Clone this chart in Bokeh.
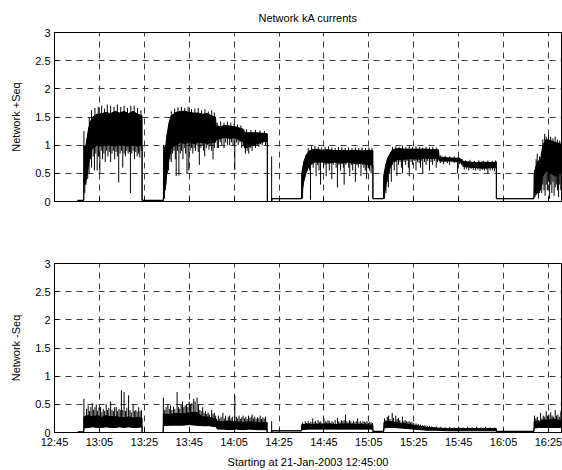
import numpy as np
from bokeh.plotting import figure
from bokeh.layouts import column
from bokeh.models import FixedTicker, Range1d
from bokeh.embed import file_html
from bokeh.resources import INLINE

# ---- data (minutes after 21-Jan-2003 12:45:00) ----
tick_minutes = [0, 20, 40, 60, 80, 100, 120, 140, 160, 180, 200, 220]
tick_labels = ["12:45", "13:05", "13:25", "13:45", "14:05", "14:25",
               "14:45", "15:05", "15:25", "15:45", "16:05", "16:25"]
y_ticks = [0, 0.5, 1, 1.5, 2, 2.5, 3]
y_tick_labels = ["0", "0.5", "1", "1.5", "2", "2.5", "3"]

# positive sequence: dense core of the trace (time, low, high)
pos_t = [0, 10.4, 10.4, 13.0,
         13.1, 13.6, 14.2, 15.0, 15.8, 17, 19, 21, 23, 25, 27, 29, 31, 33, 35, 37, 39.0,
         39.0, 48.5,
         48.6, 49.3, 50.0, 51.0, 52.0, 54, 56, 58, 60, 62, 64, 66, 68, 70, 71.7,
         72.0, 74, 76, 78, 80, 82, 84.3, 84.6, 87, 90, 93, 94.8,
         94.8, 96.7, 96.8, 110.0,
         110.1, 111, 112, 113.5, 116, 119, 122, 125, 128, 131, 134, 137, 140, 141.8,
         141.8, 146.5,
         146.6, 147.5, 148.5, 150.5, 153, 156, 159, 162, 165, 168, 171.0,
         171.3, 174, 177, 180, 181.7, 182, 185, 188, 191, 194, 196.8,
         196.8, 213.5,
         213.6, 215, 216.5, 217.5, 219, 221, 223, 225, 226.5]
pos_lo = [0, 0, 0.02, 0.02,
          0.3, 0.3, 0.4, 0.6, 0.85, 0.95, 1.0, 0.98, 1.0, 1.0, 0.98, 1.0, 1.0, 0.98, 1.0, 0.98, 1.0,
          0.02, 0.02,
          0.2, 0.2, 0.5, 0.75, 0.95, 1.0, 1.05, 1.03, 1.05, 1.03, 1.05, 1.05, 1.03, 1.05, 1.05,
          1.1, 1.12, 1.14, 1.12, 1.13, 1.1, 1.05, 0.95, 0.98, 1.02, 1.06, 1.08,
          0.0, 0.0, 0.05, 0.05,
          0.1, 0.35, 0.5, 0.65, 0.7, 0.7, 0.68, 0.7, 0.68, 0.7, 0.67, 0.68, 0.65, 0.65,
          0.05, 0.05,
          0.1, 0.25, 0.5, 0.7, 0.75, 0.75, 0.76, 0.75, 0.77, 0.76, 0.77,
          0.72, 0.72, 0.72, 0.7, 0.68, 0.62, 0.61, 0.6, 0.59, 0.6, 0.6,
          0.05, 0.05,
          0.1, 0.15, 0.2, 0.45, 0.55, 0.5, 0.45, 0.5, 0.5]
pos_hi = [0, 0, 0.02, 0.02,
          1.0, 0.9, 1.05, 1.25, 1.4, 1.5, 1.55, 1.56, 1.58, 1.56, 1.6, 1.57, 1.6, 1.56, 1.6, 1.55, 1.52,
          0.02, 0.02,
          1.0, 0.9, 1.15, 1.4, 1.52, 1.58, 1.6, 1.6, 1.58, 1.57, 1.57, 1.55, 1.56, 1.52, 1.5,
          1.34, 1.33, 1.35, 1.34, 1.33, 1.31, 1.28, 1.22, 1.22, 1.22, 1.21, 1.2,
          0.0, 0.0, 0.05, 0.05,
          0.5, 0.7, 0.82, 0.9, 0.93, 0.91, 0.92, 0.9, 0.91, 0.9, 0.91, 0.9, 0.91, 0.9,
          0.05, 0.05,
          0.45, 0.65, 0.78, 0.92, 0.94, 0.93, 0.93, 0.93, 0.93, 0.92, 0.92,
          0.79, 0.78, 0.77, 0.77, 0.74, 0.71, 0.7, 0.69, 0.7, 0.69, 0.7,
          0.05, 0.05,
          0.5, 0.7, 0.75, 1.0, 1.1, 1.08, 1.05, 1.03, 1.0]

# downward excursions of the positive sequence trace (time, value)
pos_dip_t = [13.5, 14.0, 14.8, 15.4, 16.0, 16.5, 17.2, 17.8, 18.4, 19.0, 19.6, 20.2, 20.8, 21.4, 22.0,
             22.6, 23.2, 23.8, 24.4, 25.0, 25.6, 26.2, 26.8, 27.4, 28.0, 28.6, 29.2, 29.8, 30.4, 31.0,
             31.6, 32.2, 32.8, 33.4, 33.8, 34.4, 35.0, 35.6, 36.2, 36.8, 37.4, 38.0, 38.6,
             49.0, 49.6, 50.2, 50.8, 51.4, 52.0, 52.6, 53.2, 53.8, 54.2, 54.8, 55.4, 56.0, 56.6, 57.2,
             57.8, 58.4, 59.0, 59.8, 60.4, 61.0, 61.6, 62.2, 62.8, 63.4, 64.0, 64.5, 65.2, 65.8, 66.4,
             66.9, 67.6, 68.2, 68.8, 69.4, 70.0, 70.6, 71.2,
             72.5, 73.0, 73.8, 74.5, 75.5, 76.2, 77.0, 78.0, 78.8, 79.5, 80.3, 81.0, 81.8, 82.6, 83.4, 84.1,
             85.0, 85.8, 86.5, 87.2, 88.0, 88.8, 89.5, 90.3, 91.0, 91.8, 92.5, 93.2, 94.0, 94.5,
             110.5, 111.2, 111.8, 112.4, 113.0, 113.6, 114.0, 114.6, 115.2, 115.8, 116.5, 117.2, 117.8,
             118.5, 119.2, 119.8, 120.5, 121.0, 121.7, 122.4, 123.0, 123.5, 124.2, 124.8, 125.4, 126.0,
             126.7, 127.4, 128.0, 128.6, 129.0, 129.8, 130.4, 131.0, 131.5, 132.2, 132.8, 133.5, 134.0,
             134.7, 135.3, 136.0, 136.5, 137.2, 137.8, 138.4, 139.0, 139.7, 140.3, 141.0, 141.5,
             147.0, 147.6, 148.2, 148.7, 149.3, 150.0, 150.6, 151.3, 152.0, 152.5, 153.2, 153.9, 154.5,
             155.0, 155.7, 156.4, 157.0, 157.6, 158.0, 158.8, 159.5, 160.2, 161.0, 161.7, 162.4, 163.0,
             163.6, 164.0, 164.8, 165.5, 166.2, 167.0, 167.7, 168.4, 169.2, 170.0, 170.6,
             171.8, 172.5, 173.3, 174.0, 175.0, 176.0, 177.0, 178.0, 179.0, 179.5, 180.3, 181.2,
             182.5, 183.5, 184.5, 185.5, 186.5, 187.5, 188.5, 189.5, 190.5, 191.5, 192.5, 193.0, 194.0,
             195.0, 196.0,
             214.0, 214.5, 215.0, 215.5, 216.0, 216.5, 217.0, 217.5, 218.0, 218.5, 219.0, 219.5, 220.0,
             220.5, 221.0, 221.5, 222.0, 222.5, 223.0, 223.5, 224.0, 224.5, 225.0, 225.5, 226.0]
pos_dip_v = [0.15, 0.3, 0.4, 0.5, 0.75, 0.6, 0.8, 0.55, 0.85, 0.55, 0.8, 0.49, 0.9, 0.75, 0.85,
             0.7, 0.9, 0.8, 0.88, 0.7, 0.85, 0.9, 0.75, 0.88, 0.8, 0.34, 0.85, 0.9, 0.6, 0.85,
             0.8, 0.9, 0.85, 0.88, 0.15, 0.85, 0.9, 0.75, 0.88, 0.8, 0.85, 0.78, 0.9,
             0.05, 0.3, 0.5, 0.55, 0.75, 0.7, 0.85, 0.9, 0.75, 0.45, 0.9, 0.46, 0.85, 0.9, 0.75,
             0.95, 0.85, 0.5, 0.55, 0.9, 0.95, 0.85, 0.95, 0.9, 1.0, 0.88, 0.65, 0.95, 1.0, 0.9,
             0.8, 0.95, 1.0, 0.92, 0.98, 0.9, 0.75, 0.95,
             0.95, 0.95, 1.05, 1.0, 0.95, 1.05, 1.0, 1.0, 1.05, 1.0, 0.56, 1.05, 1.0, 1.05, 0.95, 1.0,
             0.85, 0.9, 0.85, 0.95, 0.9, 0.98, 0.95, 1.0, 0.97, 1.02, 1.0, 1.05, 1.0, 1.05,
             0.05, 0.4, 0.5, 0.6, 0.7, 0.55, 0.03, 0.65, 0.6, 0.7, 0.45, 0.65, 0.55,
             0.3, 0.7, 0.6, 0.65, 0.45, 0.7, 0.55, 0.7, 0.4, 0.65, 0.7, 0.6, 0.25,
             0.65, 0.55, 0.7, 0.6, 0.3, 0.65, 0.7, 0.6, 0.45, 0.65, 0.55, 0.7, 0.35,
             0.65, 0.6, 0.7, 0.45, 0.65, 0.6, 0.55, 0.4, 0.6, 0.55, 0.5, 0.6,
             0.05, 0.15, 0.35, 0.25, 0.5, 0.35, 0.65, 0.55, 0.7, 0.45, 0.65, 0.7, 0.6,
             0.5, 0.7, 0.65, 0.72, 0.6, 0.45, 0.7, 0.65, 0.72, 0.55, 0.7, 0.68, 0.6,
             0.72, 0.5, 0.7, 0.65, 0.72, 0.55, 0.7, 0.65, 0.72, 0.6, 0.7,
             0.68, 0.7, 0.66, 0.7, 0.68, 0.65, 0.7, 0.68, 0.7, 0.5, 0.66, 0.65,
             0.57, 0.58, 0.55, 0.58, 0.56, 0.55, 0.57, 0.54, 0.56, 0.55, 0.57, 0.5, 0.55,
             0.56, 0.54,
             0.08, 0.12, 0.2, 0.05, 0.15, 0.25, 0.15, 0.3, 0.2, 0.1, 0.3, 0.2, 0.35,
             0.05, 0.3, 0.15, 0.35, 0.1, 0.25, 0.3, 0.2, 0.08, 0.3, 0.2, 0.1]

# upward excursions of the positive sequence trace (time, value)
pos_peak_t = [13.1, 15.5, 16.5, 18.0, 19.5, 21.0, 22.3, 23.5, 25.0, 26.5, 28.0, 29.5, 31.0, 32.5, 34.0,
              35.5, 37.0, 38.5,
              52.0, 53.5, 55.0, 56.5, 58.0, 59.5, 61.0, 62.5, 64.0, 65.5, 67.0, 68.5, 70.0, 71.2,
              72.5, 74.0, 75.5, 77.0, 78.5, 80.0, 81.5, 83.0,
              85.5, 87.5, 89.5, 91.5, 93.5,
              96.7,
              113.0, 114.5, 116.0, 117.5, 119.0, 120.5, 122.0, 123.5, 125.0, 126.5, 128.0, 129.5, 131.0,
              132.5, 134.0, 135.5, 137.0, 138.5, 140.0, 141.4,
              150.5, 152.0, 153.5, 155.0, 156.5, 158.0, 159.5, 161.0, 162.5, 164.0, 165.5, 167.0, 168.5,
              170.0, 172.0, 174.0, 176.0, 178.0, 180.0,
              183.0, 185.0, 187.0, 189.0, 191.0, 193.0, 195.0, 196.5,
              214.5, 215.0, 216.0, 217.5, 218.3, 219.0, 220.0, 221.0, 222.0, 223.0, 224.0, 225.0]
pos_peak_v = [1.25, 1.5, 1.62, 1.66, 1.68, 1.7, 1.65, 1.72, 1.7, 1.68, 1.72, 1.68, 1.7, 1.66, 1.7,
              1.7, 1.66, 1.62,
              1.6, 1.65, 1.67, 1.68, 1.66, 1.68, 1.64, 1.65, 1.66, 1.62, 1.64, 1.6, 1.62, 1.58,
              1.4, 1.42, 1.4, 1.42, 1.4, 1.38, 1.37, 1.35,
              1.28, 1.27, 1.27, 1.26, 1.25,
              0.8,
              0.95, 0.98, 0.99, 0.97, 0.96, 0.97, 0.98, 0.96, 0.95, 0.97, 0.96, 0.95, 0.96,
              0.95, 0.96, 0.95, 0.96, 0.95, 0.96, 0.95,
              0.97, 0.98, 0.97, 0.99, 0.97, 0.98, 0.97, 0.98, 0.97, 0.96, 0.97, 0.96, 0.97,
              0.96, 0.82, 0.81, 0.8, 0.8, 0.79,
              0.73, 0.74, 0.72, 0.73, 0.72, 0.73, 0.72, 0.73,
              0.75, 0.85, 0.8, 1.1, 1.2, 1.15, 1.18, 1.15, 1.12, 1.15, 1.1, 1.08]

# negative sequence: dense core (time, low, high)
neg_t = [0, 10.4, 10.4, 13.0,
         13.1, 15, 17, 19, 21, 23, 25, 27, 29, 31, 33, 35, 37, 39.0,
         39.0, 48.4,
         48.5, 51, 54, 57, 60, 63, 66, 69, 72, 72.5, 75, 78, 81, 84, 87, 90, 94.7,
         94.7, 96.7, 96.8, 110.0,
         110.1, 113, 116, 119, 122, 125, 128, 131, 134, 137, 141.8,
         141.8, 146.6,
         146.7, 148.5, 151, 154, 157, 160, 163, 166, 170, 175, 180, 185, 190, 196.8,
         196.8, 213.5,
         213.6, 216, 218, 220, 222, 224, 226.5]
neg_lo = [0, 0, 0.01, 0.01,
          0.08, 0.09, 0.1, 0.09, 0.09, 0.1, 0.09, 0.09, 0.1, 0.09, 0.1, 0.09, 0.09, 0.1,
          0.0, 0.0,
          0.12, 0.13, 0.13, 0.13, 0.14, 0.13, 0.12, 0.12, 0.1, 0.06, 0.06, 0.05, 0.06, 0.05, 0.06, 0.05, 0.05,
          0.0, 0.0, 0.03, 0.03,
          0.05, 0.06, 0.06, 0.06, 0.06, 0.06, 0.06, 0.06, 0.06, 0.06, 0.06,
          0.02, 0.02,
          0.08, 0.09, 0.09, 0.08, 0.07, 0.06, 0.05, 0.04, 0.04, 0.03, 0.03, 0.03, 0.03, 0.03,
          0.02, 0.02,
          0.08, 0.09, 0.09, 0.09, 0.09, 0.09, 0.09]
neg_hi = [0, 0, 0.01, 0.01,
          0.28, 0.3, 0.28, 0.3, 0.27, 0.3, 0.28, 0.28, 0.27, 0.26, 0.28, 0.26, 0.27, 0.26,
          0.0, 0.0,
          0.33, 0.32, 0.34, 0.33, 0.35, 0.36, 0.28, 0.27, 0.24, 0.2, 0.19, 0.2, 0.19, 0.18, 0.19, 0.18, 0.18,
          0.0, 0.0, 0.03, 0.03,
          0.14, 0.15, 0.14, 0.15, 0.15, 0.14, 0.15, 0.15, 0.14, 0.14, 0.13,
          0.02, 0.02,
          0.18, 0.2, 0.19, 0.17, 0.15, 0.13, 0.11, 0.09, 0.08, 0.07, 0.07, 0.07, 0.07, 0.07,
          0.02, 0.02,
          0.2, 0.2, 0.22, 0.22, 0.24, 0.22, 0.22]
neg_peak_t = [13.1, 13.7, 14.3, 15.0, 15.6, 16.2, 16.8, 17.4, 18.0, 18.6, 19.2, 19.8, 20.5, 21.1, 21.7,
              22.3, 23.0, 23.6, 24.2, 25.0, 25.6, 26.2, 26.8, 27.5, 28.1, 28.7, 29.3, 29.8, 30.4, 31.0,
              31.6, 32.2, 33.0, 33.6, 34.2, 35.0, 35.6, 36.2, 36.8, 37.5, 38.1, 38.7,
              48.5, 49.1, 49.7, 50.5, 51.1, 51.7, 52.3, 53.0, 53.6, 54.6, 55.2, 55.8, 56.4, 57.0, 57.6,
              58.2, 58.8, 59.4, 60.0, 60.6, 61.2, 62.0, 62.6, 63.5, 64.1, 64.7, 65.3, 66.0, 66.6, 67.2,
              67.8, 68.4, 69.0, 70.0, 70.6, 71.2, 71.8,
              73.0, 73.6, 74.2, 75.0, 75.6, 76.2, 76.8, 77.4, 78.0, 78.6, 79.2, 80.3, 81.0, 81.6, 82.2,
              82.8, 83.4, 84.0, 84.6, 85.2, 85.8, 86.4, 87.0, 87.6, 88.0, 88.6, 89.2, 89.8, 90.4, 91.0,
              91.6, 92.2, 92.8, 93.4, 94.0,
              96.7,
              110.5, 111.1, 111.7, 112.3, 113.0, 113.6, 114.2, 115.0, 115.6, 116.2, 116.8, 117.4, 118.0,
              118.6, 119.2, 120.0, 120.6, 121.2, 121.8, 122.4, 123.0, 123.6, 124.2, 125.0, 126.0, 126.6,
              127.2, 127.8, 128.4, 129.0, 129.6, 130.2, 130.8, 131.4, 132.0, 132.6, 133.2, 133.8, 134.4,
              135.0, 135.6, 136.2, 136.8, 137.4, 138.0, 138.6, 139.2, 139.8, 140.4, 141.0, 141.6,
              147.0, 147.6, 148.2, 148.8, 149.4, 150.4, 151.0, 152.0, 152.6, 153.2, 153.8, 155.0, 155.6,
              156.2, 156.8, 157.4, 158.0, 158.6, 159.2, 160.0, 161.0, 162.0, 163.0, 164.0, 165.0, 166.0,
              167.0, 168.0, 169.0, 170.0, 172.0, 174.0, 176.0, 178.0, 180.0, 182.0, 184.0, 186.0, 188.0,
              190.0, 192.0, 194.0, 196.0,
              213.8, 214.4, 215.0, 215.6, 216.5, 217.1, 217.7, 218.3, 219.0, 219.6, 220.2, 221.0, 221.6,
              222.2, 223.0, 223.6, 224.2, 224.8, 225.5]
neg_peak_v = [0.6, 0.3, 0.42, 0.48, 0.38, 0.45, 0.52, 0.4, 0.45, 0.5, 0.38, 0.44, 0.45, 0.36, 0.42,
              0.38, 0.5, 0.4, 0.44, 0.55, 0.4, 0.38, 0.45, 0.45, 0.38, 0.42, 0.4, 0.75, 0.4, 0.72,
              0.38, 0.44, 0.66, 0.4, 0.36, 0.5, 0.38, 0.4, 0.37, 0.45, 0.38, 0.4,
              0.62, 0.4, 0.45, 0.5, 0.42, 0.48, 0.4, 0.46, 0.42, 0.72, 0.45, 0.42, 0.5, 0.55, 0.45,
              0.48, 0.5, 0.45, 0.55, 0.5, 0.52, 0.6, 0.55, 0.62, 0.5, 0.4, 0.38, 0.45, 0.35, 0.38,
              0.33, 0.36, 0.32, 0.4, 0.33, 0.35, 0.3,
              0.3, 0.25, 0.28, 0.35, 0.25, 0.3, 0.22, 0.28, 0.3, 0.25, 0.28, 0.66, 0.28, 0.25, 0.3,
              0.24, 0.27, 0.3, 0.25, 0.28, 0.24, 0.3, 0.26, 0.28, 0.32, 0.25, 0.28, 0.24, 0.27, 0.25,
              0.3, 0.24, 0.27, 0.25, 0.28,
              0.2,
              0.18, 0.15, 0.2, 0.17, 0.2, 0.16, 0.19, 0.25, 0.18, 0.2, 0.17, 0.22, 0.18,
              0.2, 0.16, 0.25, 0.2, 0.18, 0.22, 0.2, 0.17, 0.2, 0.18, 0.22, 0.26, 0.2,
              0.18, 0.22, 0.2, 0.22, 0.32, 0.2, 0.18, 0.22, 0.2, 0.17, 0.2, 0.18, 0.2,
              0.25, 0.18, 0.2, 0.17, 0.2, 0.19, 0.18, 0.2, 0.17, 0.19, 0.18, 0.17,
              0.25, 0.22, 0.28, 0.3, 0.24, 0.35, 0.26, 0.3, 0.24, 0.26, 0.22, 0.28, 0.2,
              0.22, 0.2, 0.19, 0.2, 0.18, 0.19, 0.17, 0.16, 0.15, 0.14, 0.13, 0.13, 0.12,
              0.12, 0.11, 0.1, 0.11, 0.1, 0.09, 0.1, 0.09, 0.1, 0.09, 0.1, 0.09, 0.1,
              0.09, 0.1, 0.09, 0.09,
              0.3, 0.25, 0.28, 0.22, 0.35, 0.25, 0.3, 0.28, 0.38, 0.3, 0.32, 0.36, 0.3,
              0.28, 0.4, 0.3, 0.32, 0.28, 0.38]

FONT = "Liberation Sans"
X_END = 225.8


def make_fig(height, top, bottom, ylabel, show_x_labels):
    p = figure(width=562, height=height, output_backend="svg", toolbar_location=None,
               x_range=Range1d(0, X_END), y_range=Range1d(0, 3),
               min_border_left=54, min_border_right=1,
               min_border_top=top, min_border_bottom=bottom)
    p.background_fill_color = "white"
    p.border_fill_color = "white"
    p.outline_line_color = "black"
    p.outline_line_width = 1
    p.xaxis.ticker = FixedTicker(ticks=tick_minutes)
    p.yaxis.ticker = FixedTicker(ticks=y_ticks)
    p.xaxis.major_label_overrides = {k: v for k, v in zip(tick_minutes, tick_labels)}
    p.yaxis.major_label_overrides = {k: v for k, v in zip(y_ticks, y_tick_labels)}
    for ax in (p.xaxis[0], p.yaxis[0]):
        ax.axis_line_color = "black"
        ax.major_tick_in = 4
        ax.major_tick_out = 0
        ax.minor_tick_line_color = None
        ax.major_label_text_font = FONT
        ax.major_label_text_font_size = "11px"
        ax.major_label_text_color = "black"
        ax.axis_label_text_font = FONT
        ax.axis_label_text_font_size = "11px"
        ax.axis_label_text_font_style = "normal"
        ax.axis_label_text_color = "black"
    p.yaxis.major_label_standoff = 4
    p.yaxis.axis_label = ylabel
    p.yaxis.axis_label_standoff = 10
    p.xaxis.major_label_standoff = 3
    if not show_x_labels:
        p.xaxis.major_label_text_color = None
    for g in (p.xgrid[0], p.ygrid[0]):
        g.grid_line_color = "#3a3a3a"
        g.grid_line_dash = "6 5"
        g.grid_line_width = 1
    p.xgrid.ticker = FixedTicker(ticks=tick_minutes)
    p.ygrid.ticker = FixedTicker(ticks=y_ticks)
    return p


p1 = make_fig(232, 32, 31, "Network +Seq", False)
p1.title.text = "Network kA currents"
p1.title.align = "center"
p1.title.text_font = FONT
p1.title.text_font_size = "11px"
p1.title.text_font_style = "normal"
p1.title.text_color = "black"
p1.title.standoff = 16
p1.title.vertical_align = "middle"

p2 = make_fig(238, 31, 38, "Network -Seq", True)
p2.xaxis.axis_label = "Starting at 21-Jan-2003 12:45:00"
p2.xaxis.axis_label_standoff = 5


def draw(p, t, lo, hi, dip_t, dip_v, peak_t, peak_v):
    p.varea(x=t, y1=lo, y2=hi, fill_color="black")
    p.line(t, hi, line_color="black", line_width=1)
    p.line(t, lo, line_color="black", line_width=1)
    if dip_t:
        start = np.interp(dip_t, t, hi)
        p.segment(x0=dip_t, y0=start, x1=dip_t, y1=dip_v, line_color="black", line_width=1)
    if peak_t:
        start = np.interp(peak_t, t, lo)
        p.segment(x0=peak_t, y0=start, x1=peak_t, y1=peak_v, line_color="black", line_width=1)


draw(p1, pos_t, pos_lo, pos_hi, pos_dip_t, pos_dip_v, pos_peak_t, pos_peak_v)
draw(p2, neg_t, neg_lo, neg_hi, [], [], neg_peak_t, neg_peak_v)

layout = column(p1, p2, spacing=0)
open("out.html", "w").write(file_html(layout, INLINE))
